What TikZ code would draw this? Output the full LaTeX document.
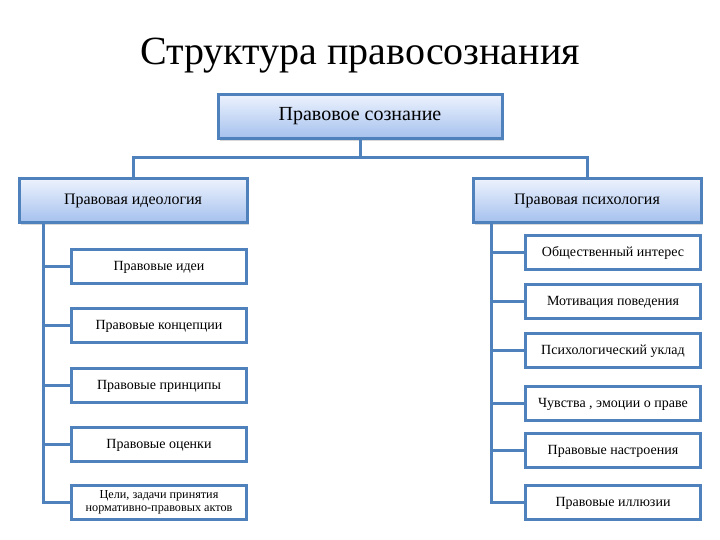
\documentclass[tikz,border=0pt]{standalone}
\usepackage{fontspec}
\setmainfont{Liberation Serif}
\usepackage{tikz}
\usetikzlibrary{shadows}
\definecolor{lineblue}{RGB}{79,129,189}
\definecolor{boxtop}{RGB}{236,242,253}
\definecolor{boxbottom}{RGB}{164,192,238}
\tikzset{
  mainbox/.style={draw=lineblue, line width=3pt, top color=boxtop, bottom color=boxbottom,
    drop shadow={shadow xshift=1.5pt, shadow yshift=-2.5pt, opacity=0.25, fill=black!60},
    minimum height=44pt, inner sep=0pt, text height=0.7em, text depth=0pt},
  subbox/.style={draw=lineblue, line width=3pt, fill=white, minimum width=175pt,
    minimum height=34pt, inner sep=0pt, text height=0.85em, text depth=0pt,
    font=\fontsize{14}{16}\selectfont},
  tree/.style={draw=lineblue, line width=3pt}
}

\begin{document}
\begin{tikzpicture}[x=1pt,y=-1pt]
\useasboundingbox[fill=white] (0,0) rectangle (720,540);
\node[anchor=base, font=\fontsize{40}{46}\selectfont] (title) at (360,65) {Структура правосознания};
\node[mainbox, minimum width=284pt, font=\fontsize{20}{22}\selectfont] (top) at (360,117) {Правовое сознание};
\node[mainbox, minimum width=228pt, font=\fontsize{16}{18}\selectfont] (ideo) at (133,201) {Правовая идеология};
\node[mainbox, minimum width=228pt, font=\fontsize{16}{18}\selectfont] (psych) at (587,201) {Правовая психология};
\node[subbox] (ideas) at (159,266.5) {Правовые идеи};
\node[subbox] (concepts) at (159,325.5) {Правовые концепции};
\node[subbox] (principles) at (159,385.5) {Правовые принципы};
\node[subbox] (ratings) at (159,444) {Правовые оценки};
\node[subbox, align=center, text height=, text depth=, font=\fontsize{12.2}{13.5}\selectfont] (goals) at (159,502.5) {Цели, задачи принятия\\нормативно-правовых актов};
\node[subbox] (interest) at (613,252.5) {Общественный интерес};
\node[subbox] (motive) at (613,301.5) {Мотивация поведения};
\node[subbox] (mode) at (613,350.5) {Психологический уклад};
\node[subbox] (feelings) at (613,403) {Чувства , эмоции о праве};
\node[subbox] (moods) at (613,450.5) {Правовые настроения};
\node[subbox] (illusions) at (613,502.5) {Правовые иллюзии};
\coordinate (ltrunk) at (43,223);
\coordinate (rtrunk) at (491,223);
\draw[tree] (top.south) -- ++(0,17) -| (ideo.north);
\draw[tree] (top.south) ++(0,17) -| (psych.north);
\draw[tree] (ltrunk) |- (goals.west);
\foreach \n in {ideas,concepts,principles,ratings}
  \draw[tree] (\n.west) -- (\n.west -| ltrunk);
\draw[tree] (rtrunk) |- (illusions.west);
\foreach \n in {interest,motive,mode,feelings,moods}
  \draw[tree] (\n.west) -- (\n.west -| rtrunk);
\end{tikzpicture}
\end{document}
